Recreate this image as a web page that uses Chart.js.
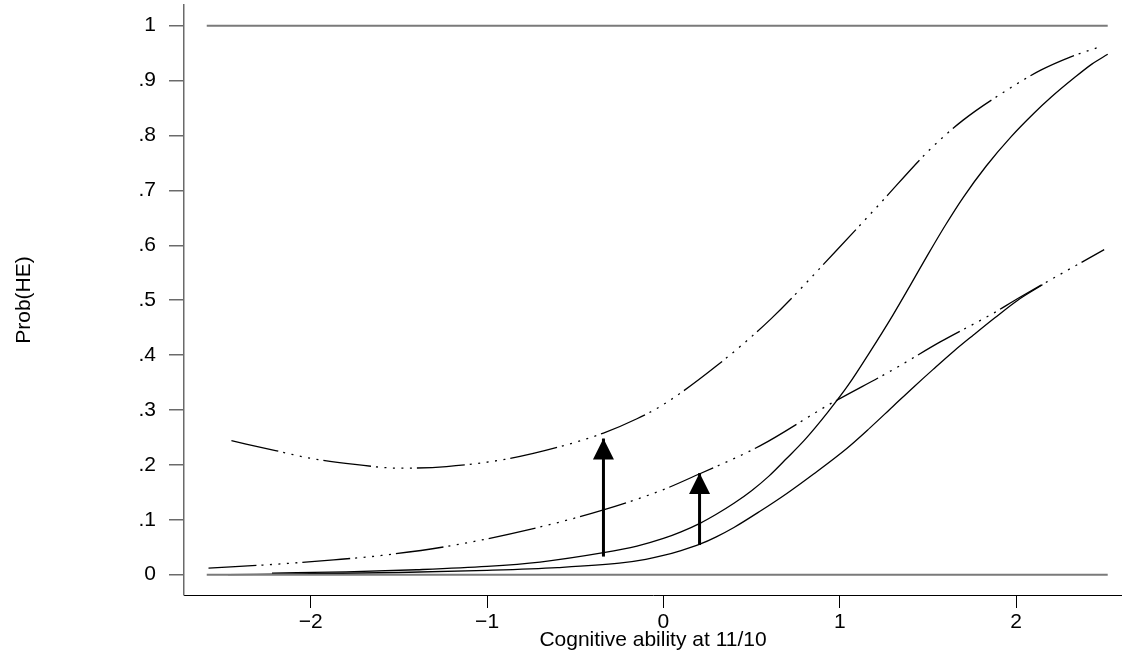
<!DOCTYPE html>
<html><head><meta charset="utf-8">
<script src="https://cdn.jsdelivr.net/npm/chart.js@4"></script>
<style>html,body{margin:0;padding:0;background:#fff;}</style>
</head><body>
<canvas id="c" width="1122" height="663"></canvas>
<script>
// ---- data ----
const xTicks = [-2, -1, 0, 1, 2];
const xTickLabels = ['\u22122', '\u22121', '0', '1', '2'];
const yTicks = [0, 0.1, 0.2, 0.3, 0.4, 0.5, 0.6, 0.7, 0.8, 0.9, 1];
const yTickLabels = ['0', '.1', '.2', '.3', '.4', '.5', '.6', '.7', '.8', '.9', '1'];

const upperDashX = [-2.45, -2.2, -2.0, -1.75, -1.5, -1.23, -0.9, -0.59, -0.34, -0.15, 0, 0.3, 0.61, 0.98, 1.22, 1.51, 1.70, 1.95, 2.14, 2.30, 2.48];
const upperDashY = [0.244, 0.226, 0.212, 0.201, 0.194, 0.197, 0.210, 0.233, 0.258, 0.284, 0.310, 0.380, 0.466, 0.590, 0.673, 0.774, 0.828, 0.883, 0.919, 0.942, 0.962];

const lowerDashX = [-2.58, -2.2, -1.87, -1.6, -1.2, -0.75, -0.34, 0, 0.2, 0.55, 0.935, 1.30, 1.57, 1.87, 2.01, 2.25, 2.5];
const lowerDashY = [0.012, 0.019, 0.027, 0.035, 0.053, 0.083, 0.118, 0.155, 0.183, 0.235, 0.309, 0.373, 0.424, 0.476, 0.503, 0.547, 0.592];

const steepSolidX = [-2.22, -1.8, -1.4, -1.0, -0.7, -0.34, -0.15, 0, 0.1, 0.21, 0.3, 0.4, 0.5, 0.6, 0.7, 0.8, 0.935, 1.05, 1.17, 1.30, 1.40, 1.50, 1.60, 1.70, 1.83, 1.97, 2.1, 2.2, 2.33, 2.43, 2.52];
const steepSolidY = [0.003, 0.005, 0.009, 0.015, 0.023, 0.040, 0.052, 0.066, 0.078, 0.094, 0.110, 0.130, 0.153, 0.180, 0.212, 0.245, 0.297, 0.346, 0.405, 0.472, 0.527, 0.583, 0.637, 0.687, 0.744, 0.797, 0.840, 0.870, 0.905, 0.930, 0.948];

const flatSolidX = [-2.47, -2.0, -1.5, -1.0, -0.6, -0.25, -0.1, 0, 0.1, 0.21, 0.3, 0.4, 0.55, 0.7, 0.85, 1.04, 1.17, 1.30, 1.42, 1.53, 1.65, 1.76, 1.88, 2.01, 2.15];
const flatSolidY = [0.000, 0.002, 0.004, 0.008, 0.013, 0.021, 0.028, 0.035, 0.044, 0.056, 0.069, 0.086, 0.116, 0.148, 0.183, 0.230, 0.267, 0.306, 0.342, 0.374, 0.408, 0.437, 0.468, 0.500, 0.528];

const refLineX = [-2.59, 2.52];
const refLineLevels = [0, 1];

const arrowX = [-0.34, 0.205];
const arrowFrom = [0.033, 0.054];
const arrowTo = [0.248, 0.185];

// ---- build chart ----
const pts = (xs, ys) => xs.map((x, i) => ({x: x, y: ys[i]}));
const dashPattern = [48, 5, 2, 6.5, 2, 6.5, 2, 6.5, 2, 6.5, 2, 5];

const datasets = [];
refLineLevels.forEach(lv => datasets.push({
  data: refLineX.map(x => ({x: x, y: lv})),
  borderColor: '#7a7a7a', borderWidth: 2, pointRadius: 0, tension: 0
}));
const curve = (xs, ys, dashed) => ({
  data: pts(xs, ys), borderColor: '#000', borderWidth: 1.3, pointRadius: 0,
  cubicInterpolationMode: 'monotone', borderDash: dashed ? dashPattern : []
});
datasets.push(curve(upperDashX, upperDashY, true));
datasets.push(curve(lowerDashX, lowerDashY, true));
datasets.push(curve(steepSolidX, steepSolidY, false));
datasets.push(curve(flatSolidX, flatSolidY, false));
arrowX.forEach((x, i) => datasets.push({
  data: [{x: x, y: arrowFrom[i]}, {x: x, y: arrowTo[i]}],
  borderColor: '#000', borderWidth: 3, pointRadius: 0, tension: 0
}));

const arrowHeads = {
  id: 'arrowHeads',
  afterDatasetsDraw(chart) {
    const {ctx, scales: {x, y}} = chart;
    ctx.save();
    ctx.fillStyle = '#000';
    arrowX.forEach((ax, i) => {
      const px = x.getPixelForValue(ax);
      const py = y.getPixelForValue(arrowTo[i]);
      ctx.beginPath();
      ctx.moveTo(px, py);
      ctx.lineTo(px - 10.5, py + 21);
      ctx.lineTo(px + 10.5, py + 21);
      ctx.closePath();
      ctx.fill();
    });
    ctx.restore();
  }
};

const FONT = 'Liberation Sans, Arial, Helvetica, sans-serif';

new Chart(document.getElementById('c'), {
  type: 'line',
  data: {datasets},
  plugins: [arrowHeads],
  options: {
    responsive: false, animation: false, devicePixelRatio: 1,
    layout: {padding: {top: 5, left: 0, right: 0, bottom: 0}},
    plugins: {legend: {display: false}, tooltip: {enabled: false}},
    scales: {
      x: {
        type: 'linear', min: -2.719, max: 2.601,
        afterBuildTicks: s => { s.ticks = xTicks.map(v => ({value: v})); },
        afterFit: s => { s.height = 68; s.paddingLeft = 0; s.paddingRight = 0; },
        ticks: {callback: (v, i) => xTickLabels[i], font: {family: FONT, size: 21}, color: '#000', padding: 2, maxRotation: 0, autoSkip: false},
        grid: {drawOnChartArea: false, drawTicks: true, tickLength: 13, color: '#000', lineWidth: 1},
        border: {display: true, color: '#000', width: 1},
        title: {display: true, text: 'Cognitive ability at 11/10', font: {family: FONT, size: 21}, color: '#000', padding: {top: 0, bottom: 10}}
      },
      y: {
        type: 'linear', min: -0.037, max: 1.0377,
        afterBuildTicks: s => { s.ticks = yTicks.map(v => ({value: v})); },
        afterFit: s => { s.width = 184; s.paddingTop = 0; s.paddingBottom = 0; },
        ticks: {callback: (v, i) => yTickLabels[i], font: {family: FONT, size: 21}, color: '#000', padding: 13, autoSkip: false},
        grid: {drawOnChartArea: false, drawTicks: true, tickLength: 15, color: '#6a6a6a', lineWidth: 1.5},
        border: {display: true, color: '#6a6a6a', width: 1.5},
        title: {display: true, text: 'Prob(HE)', font: {family: FONT, size: 21}, color: '#000', padding: {top: 12, bottom: 0}}
      }
    }
  }
});
</script>
</body></html>
